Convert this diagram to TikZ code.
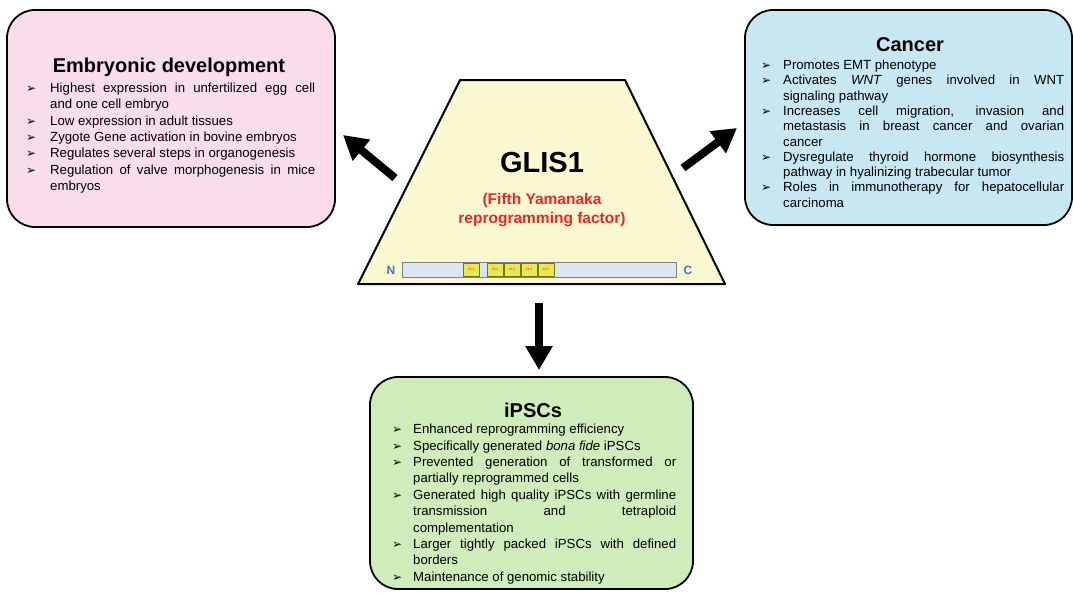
\documentclass[tikz,border=0pt]{standalone}
\usepackage{fontspec}
\setmainfont{Liberation Sans}
\newfontfamily\arrowfont{DejaVu Sans}
\usetikzlibrary{arrows.meta}

\definecolor{embryopink}{RGB}{250,221,235}
\definecolor{cancerblue}{RGB}{199,231,243}
\definecolor{ipscgreen}{RGB}{208,236,186}
\definecolor{glisyellow}{RGB}{250,248,208}
\definecolor{barblue}{RGB}{220,230,242}
\definecolor{zfyellow}{RGB}{230,234,80}
\definecolor{termblue}{RGB}{68,114,196}
\definecolor{factorred}{RGB}{232,40,40}

\newlength\bulind
\newcommand{\bul}{\par\hangindent=\bulind\hangafter=1\noindent
  \hbox to\bulind{\hskip2pt{\arrowfont\fontsize{12}{12}\selectfont ➢}\hss}}
\newcommand{\listfont}[1]{\fontsize{13.2}{#1}\selectfont\hyphenpenalty=10000\exhyphenpenalty=10000\tolerance=9999\emergencystretch=20pt}

\begin{document}
\begin{tikzpicture}[x=1pt,y=-1pt,
  box/.style={draw=black, line width=1.8pt, rounded corners=28pt, inner sep=0pt},
  boxtitle/.style={font=\fontsize{20}{24}\selectfont\bfseries},
  boxlist/.style={anchor=north west, inner sep=0pt, align=justify},
  bigarrow/.style={line width=8pt, -{Triangle[length=24pt,width=26pt]}},
  zfbox/.style={draw=olive!80!black, line width=0.6pt, fill=zfyellow, minimum width=16pt,
    minimum height=13pt, inner sep=0pt, font=\fontsize{3}{3}\selectfont, text=red}]

\useasboundingbox (0,0) rectangle (1073,592);

% BOXES
\node[box, fill=embryopink, minimum width=328pt, minimum height=217pt] (embryo) at (171,118.5) {};
\node[box, fill=cancerblue, minimum width=327pt, minimum height=215pt] (cancer) at (908.5,117.5) {};
\node[box, fill=ipscgreen, minimum width=323pt, minimum height=212pt] (ipsc) at (531.5,483) {};

% GLIS1
\draw[line width=2pt, fill=glisyellow, line join=round] (460,80) -- (625,80) -- (725,284) -- (358,284) -- cycle;
\node[font=\fontsize{29}{34}\selectfont\bfseries] (glis) at (542,163) {GLIS1};
\node[font=\fontsize{15.5}{19.5}\selectfont\bfseries, text=factorred, align=center] (glisrole) at (542,210) {(Fifth Yamanaka\\reprogramming factor)};

% PROTEIN
\node[draw=gray, line width=1pt, fill=barblue, minimum width=274pt, minimum height=15pt, inner sep=0pt] (bar) at (539,269.5) {};
\node[text=termblue, font=\fontsize{12}{12}\selectfont\bfseries] (nterm) at (391,270) {N};
\node[text=termblue, font=\fontsize{12}{12}\selectfont\bfseries] (cterm) at (688,270) {C};
\foreach \i/\x in {1/471,2/495,3/512,4/529,5/546}
  \node[zfbox] (zf\i) at (\x,269.5) {ZF \i};

% ARROWS
\coordinate (embryofrom) at (395,178);
\coordinate (embryoto) at (343,135);
\coordinate (cancerfrom) at (683,168);
\coordinate (cancerto) at (737,128);
\coordinate (ipscfrom) at (539,303);
\coordinate (ipscto) at (539,370);
\draw[bigarrow] (embryofrom) -- (embryoto);
\draw[bigarrow] (cancerfrom) -- (cancerto);
\draw[bigarrow] (ipscfrom) -- (ipscto);

% TEXT
\node[boxtitle] (embryotitle) at (169,67) {Embryonic development};
\node[boxlist, text width=291pt] (embryolist) at (24,76) {\listfont{16.3}\setlength\bulind{26pt}%
  \bul Highest expression in unfertilized egg cell\linebreak and one cell embryo
  \bul Low expression in adult tissues
  \bul Zygote Gene activation in bovine embryos
  \bul Regulates several steps in organogenesis
  \bul Regulation of valve morphogenesis in mice\linebreak embryos\par};

\node[boxtitle] (cancertitle) at (910,45) {Cancer};
\node[boxlist, text width=305pt] (cancerlist) at (759,54) {\listfont{15.3}\setlength\bulind{24pt}%
  \bul Promotes EMT phenotype
  \bul Activates \textit{WNT} genes involved in WNT\linebreak signaling pathway
  \bul Increases cell migration, invasion and\linebreak metastasis in breast cancer and ovarian\linebreak cancer
  \bul Dysregulate thyroid hormone biosynthesis\linebreak pathway in hyalinizing trabecular tumor
  \bul Roles in immunotherapy for hepatocellular\linebreak carcinoma\par};

\node[boxtitle] (ipsctitle) at (533,410) {iPSCs};
\node[boxlist, text width=286pt] (ipsclist) at (390,417) {\listfont{16.4}\setlength\bulind{23pt}%
  \bul Enhanced reprogramming efficiency
  \bul Specifically generated \textit{bona fide} iPSCs
  \bul Prevented generation of transformed or\linebreak partially reprogrammed cells
  \bul Generated high quality iPSCs with germline\linebreak transmission and tetraploid\linebreak complementation
  \bul Larger tightly packed iPSCs with defined\linebreak borders
  \bul Maintenance of genomic stability\par};

\end{tikzpicture}
\end{document}
